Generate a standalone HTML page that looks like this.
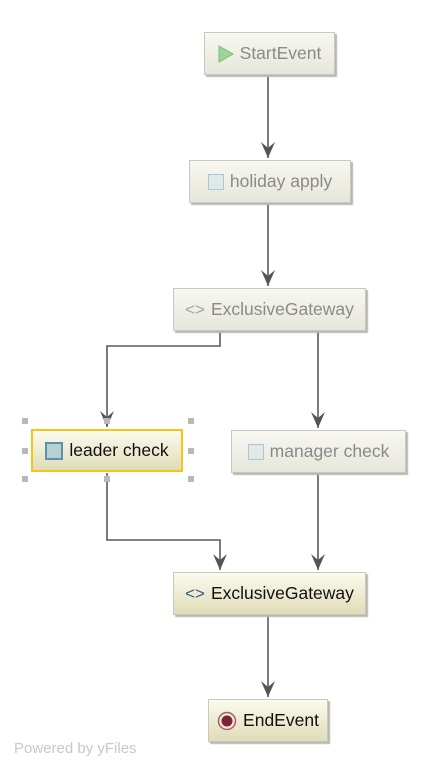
<!DOCTYPE html>
<html><head><style>
body{margin:0;width:438px;height:774px;background:#fff;position:relative;overflow:hidden;font-family:"Liberation Sans","DejaVu Sans",sans-serif}
.n{position:absolute;box-sizing:border-box;border:1px solid #c8c8c0;box-shadow:2px 2px 1px #b8b8b0;display:flex;align-items:center;justify-content:center;font-size:17.5px;white-space:nowrap}
.f{background:linear-gradient(#f8f8f2,#e6e6da);color:#8a8a8a}
.a{background:linear-gradient(#fbfbee,#e0dcb8);color:#111}
.ic{display:inline-block;margin-right:6px}
.h{position:absolute;width:6px;height:6px;background:#b8b8b8}
</style></head><body>
<svg width="438" height="774" style="position:absolute;left:0;top:0">
<defs><marker id="m" markerWidth="16" markerHeight="14" refX="16" refY="7" orient="auto" markerUnits="userSpaceOnUse" viewBox="0 0 16 14"><path d="M0,0 L6,7 L0,14 L16,7 Z" fill="#555"/></marker></defs>
<g stroke="#5a5a5a" stroke-width="1.6" fill="none">
<path d="M268 74 V158" marker-end="url(#m)"/>
<path d="M268 203 V286" marker-end="url(#m)"/>
<path d="M220 331 V346 H107 V427" marker-end="url(#m)"/>
<path d="M318 331 V428" marker-end="url(#m)"/>
<path d="M107 473 V540 H220 V570" marker-end="url(#m)"/>
<path d="M318 474 V570" marker-end="url(#m)"/>
<path d="M268 616 V697" marker-end="url(#m)"/>
</g></svg>
<div class="n f" style="left:204px;top:32px;width:131px;height:43px"><svg class="ic" width="16" height="18"><path d="M1 1 L15 9 L1 17Z" fill="#9ed39a" stroke="#7cba78"/></svg>StartEvent</div>
<div class="n f" style="left:189px;top:160px;width:162px;height:43px"><span class="ic" style="width:14px;height:14px;border:1.5px solid #a8c8d8;background:#e0e8e8"></span>holiday apply</div>
<div class="n f" style="left:173px;top:288px;width:193px;height:43px"><span class="ic" style="color:#9aa;font-size:17px">&lt;&gt;</span>ExclusiveGateway</div>
<div class="n a" style="left:31px;top:429px;width:152px;height:43px;border:2px solid #f5c518;box-shadow:none"><span class="ic" style="width:14px;height:14px;border:2px solid #5a90b0;background:#b8d0d0"></span>leader check</div>
<div class="h" style="left:22px;top:418px"></div><div class="h" style="left:104px;top:418px"></div><div class="h" style="left:188px;top:418px"></div>
<div class="h" style="left:22px;top:448px"></div><div class="h" style="left:188px;top:448px"></div>
<div class="h" style="left:22px;top:476px"></div><div class="h" style="left:104px;top:476px"></div><div class="h" style="left:188px;top:476px"></div>
<div class="n f" style="left:231px;top:430px;width:175px;height:43px"><span class="ic" style="width:14px;height:14px;border:1.5px solid #a8c8d8;background:#e0e8e8"></span>manager check</div>
<div class="n a" style="left:173px;top:572px;width:193px;height:43px"><span class="ic" style="color:#345a8a;font-size:17px">&lt;&gt;</span>ExclusiveGateway</div>
<div class="n a" style="left:208px;top:699px;width:120px;height:43px"><svg class="ic" width="20" height="20"><circle cx="10" cy="10" r="8.5" fill="#f4e4e4" stroke="#a86060" stroke-width="1.5"/><circle cx="10" cy="10" r="5.5" fill="#7a2530"/></svg>EndEvent</div>
<div style="position:absolute;left:14px;top:740px;font-size:15px;color:#c8c8c8">Powered by yFiles</div>
</body></html>
